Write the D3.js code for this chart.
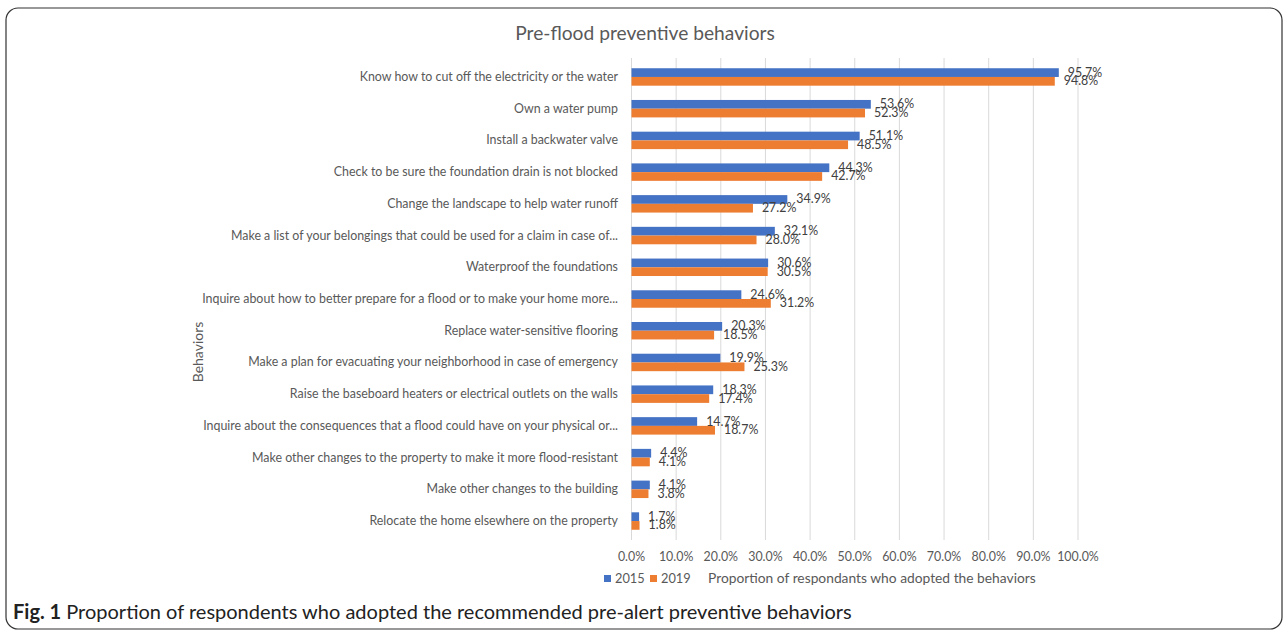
<!DOCTYPE html>
<html>
<head>
<meta charset="utf-8">
<script src="https://cdn.jsdelivr.net/npm/d3@7"></script>
<style>
  body { margin: 0; background: #fff; }
  text { font-family: Lato, "Open Sans", sans-serif; }
</style>
</head>
<body>
<script>
const categories = [
    "Know how to cut off the electricity or the water",
    "Own a water pump",
    "Install a backwater valve",
    "Check to be sure the foundation drain is not blocked",
    "Change the landscape to help water runoff",
    "Make a list of your belongings that could be used for a claim in case of...",
    "Waterproof the foundations",
    "Inquire about how to better prepare for a flood or to make your home more...",
    "Replace water-sensitive flooring",
    "Make a plan for evacuating your neighborhood in case of emergency",
    "Raise the baseboard heaters or electrical outlets on the walls",
    "Inquire about the consequences that a flood could have on your physical or...",
    "Make other changes to the property to make it more flood-resistant",
    "Make other changes to the building",
    "Relocate the home elsewhere on the property"
];
const values2015 = [95.7, 53.6, 51.1, 44.3, 34.9, 32.1, 30.6, 24.6, 20.3, 19.9, 18.3, 14.7, 4.4, 4.1, 1.7];
const values2019 = [94.8, 52.3, 48.5, 42.7, 27.2, 28.0, 30.5, 31.2, 18.5, 25.3, 17.4, 18.7, 4.1, 3.8, 1.8];
const seriesNames = ["2015", "2019"];
const xTicks = [0, 10, 20, 30, 40, 50, 60, 70, 80, 90, 100];

const colors = {"2015": "#4472c4", "2019": "#ed7d31"};
const svgWidth = 1288;
const svgHeight = 632;

const svg = d3.select("body")
    .append("svg")
    .attr("width", svgWidth)
    .attr("height", svgHeight);

// frame
svg.append("rect")
    .attr("x", 6).attr("y", 8)
    .attr("width", 1276).attr("height", 621)
    .attr("rx", 12)
    .attr("fill", "none")
    .attr("stroke", "#333")
    .attr("stroke-width", 1.2);

const x = d3.scaleLinear().domain([0, 100]).range([631.5, 1078]);
const y = d3.scaleBand().domain(categories)
    .range([61.1, 536.9])
    .paddingInner(0.45)
    .paddingOuter(0.225);
const ySub = d3.scaleBand().domain(seriesNames).range([0, y.bandwidth()]);

// gridlines
svg.append("g").selectAll("line")
    .data(xTicks)
    .enter()
    .append("line")
    .attr("x1", d => x(d)).attr("x2", d => x(d))
    .attr("y1", 58).attr("y2", 540)
    .attr("stroke", "#d9d9d9")
    .attr("stroke-width", 1);

// tick labels
svg.append("g").selectAll("text")
    .data(xTicks)
    .enter()
    .append("text")
    .attr("x", d => x(d))
    .attr("y", 561)
    .attr("text-anchor", "middle")
    .attr("fill", "#595959")
    .style("font-size", "12.4px")
    .text(d => d.toFixed(1) + "%");

// category labels
svg.append("g").selectAll("text")
    .data(categories)
    .enter()
    .append("text")
    .attr("x", 618)
    .attr("y", d => y(d) + y.bandwidth() / 2 + 4)
    .attr("text-anchor", "end")
    .attr("fill", "#595959")
    .style("font-size", "12.4px")
    .text(d => d);

const rows = categories.map((c, i) => ({cat: c, vals: [
    {name: "2015", v: values2015[i]},
    {name: "2019", v: values2019[i]}
]}));

const groups = svg.append("g").selectAll("g")
    .data(rows)
    .enter()
    .append("g")
    .attr("transform", d => `translate(0, ${y(d.cat)})`);

groups.selectAll("rect")
    .data(d => d.vals)
    .enter()
    .append("rect")
    .attr("x", x(0))
    .attr("y", d => ySub(d.name))
    .attr("width", d => x(d.v) - x(0))
    .attr("height", ySub.bandwidth())
    .attr("fill", d => colors[d.name]);

groups.selectAll("text")
    .data(d => d.vals)
    .enter()
    .append("text")
    .attr("x", d => x(d.v) + 9)
    .attr("y", d => ySub(d.name) + ySub.bandwidth() / 2 + 4)
    .attr("fill", "#404040")
    .style("font-size", "12.4px")
    .text(d => d.v.toFixed(1) + "%");

// title
svg.append("text")
    .attr("x", 645).attr("y", 40)
    .attr("text-anchor", "middle")
    .attr("fill", "#595959")
    .style("font-size", "19.2px")
    .text("Pre-flood preventive behaviors");

// y axis title
svg.append("text")
    .attr("transform", "translate(203, 352) rotate(-90)")
    .attr("text-anchor", "middle")
    .attr("fill", "#595959")
    .style("font-size", "14px")
    .text("Behaviors");

// legend
const legend = svg.append("g").selectAll("g")
    .data(seriesNames)
    .enter()
    .append("g")
    .attr("transform", (d, i) => `translate(${604 + i * 46}, 583)`);

legend.append("rect")
    .attr("x", 0).attr("y", -8)
    .attr("width", 7).attr("height", 7)
    .attr("fill", d => colors[d]);

legend.append("text")
    .attr("x", 11).attr("y", 0)
    .attr("fill", "#595959")
    .style("font-size", "12.8px")
    .text(d => d);

svg.append("text")
    .attr("x", 708).attr("y", 583)
    .attr("fill", "#595959")
    .style("font-size", "13.8px")
    .text("Proportion of respondants who adopted the behaviors");

// caption
const cap = svg.append("text")
    .attr("x", 13).attr("y", 619)
    .attr("fill", "#222")
    .style("font-size", "20px");
cap.append("tspan").style("font-weight", "bold").text("Fig. 1");
cap.append("tspan").text(" Proportion of respondents who adopted the recommended pre-alert preventive behaviors");
</script>
</body>
</html>
